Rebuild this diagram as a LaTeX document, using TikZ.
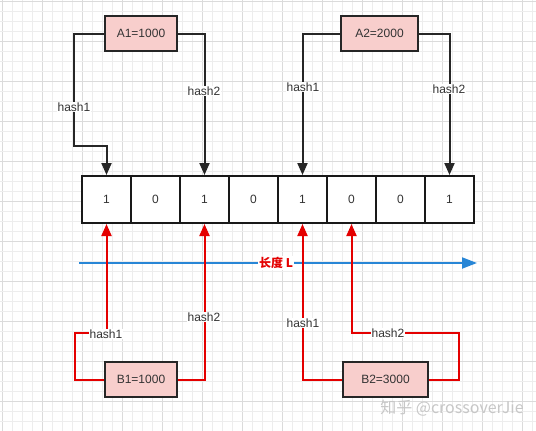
\documentclass[tikz,border=0pt]{standalone}
\usepackage{fontspec}
\setmainfont{Liberation Sans}
\newfontfamily\cjk{Noto Sans CJK SC}
\usetikzlibrary{arrows.meta,calc}
\definecolor{pinkfill}{RGB}{248,206,204}
\definecolor{redc}{RGB}{228,0,0}
\definecolor{bluec}{RGB}{40,134,214}
\definecolor{txt}{RGB}{51,51,51}
\begin{document}
\begin{tikzpicture}[x=1pt,y=-1pt,
  every node/.style={font=\fontsize{12}{14}\selectfont,text=txt},
  gminor/.style={draw=black!7,line width=0.6pt},
  gmajor/.style={draw=black!14,line width=0.6pt},
  keybox/.style={draw=black!85,fill=pinkfill,line width=2pt,minimum height=35pt,inner sep=0pt},
  cell/.style={draw=black!90,fill=white,line width=2pt,minimum width=49pt,minimum height=47pt,inner sep=0pt},
  blk/.style={draw=black!85,line width=2pt,-{Triangle[length=12pt,width=10pt]}},
  redl/.style={draw=redc,line width=2pt,-{Triangle[length=12pt,width=10pt]}},
  lbl/.style={fill=white,inner sep=1pt}
]
\useasboundingbox (0,0) rectangle (536,431);
\fill[white] (0,0) rectangle (536,431);
% grid
\foreach \i in {0,...,53} {
  \pgfmathtruncatemacro{\m}{mod(\i,4)}
  \ifnum\m=0 \draw[gmajor] ({2.5+10*\i},0) -- ++(0,431);
  \else \draw[gminor] ({2.5+10*\i},0) -- ++(0,431); \fi
}
\foreach \j in {0,...,43} {
  \pgfmathtruncatemacro{\m}{mod(\j,4)}
  \ifnum\m=0 \draw[gmajor] (0,{1.5+10*\j}) -- ++(536,0);
  \else \draw[gminor] (0,{1.5+10*\j}) -- ++(536,0); \fi
}
% key boxes
\node[keybox,minimum width=72pt] (A1) at (141,33.5) {A1=1000};
\node[keybox,minimum width=77pt] (A2) at (379.5,33.5) {A2=2000};
\node[keybox,minimum width=72pt] (B1) at (141,379.5) {B1=1000};
\node[keybox,minimum width=85pt] (B2) at (385.5,379.5) {B2=3000};
% array
\foreach \v [count=\i] in {1,0,1,0,1,0,0,1}
  \node[cell] (c\i) at ({82+49*(\i-0.5)},199.5) {\v};
% length line
\coordinate (ls) at (79,263);
\coordinate (le) at (477,263);
\draw[bluec,line width=2pt,-{Triangle[length=15pt,width=11pt]}] (ls) -- (le);
\node[fill=white,inner sep=1pt,text=redc,font=\cjk\bfseries\fontsize{12}{14}\selectfont] (len) at (276,263) {长度 L};
% A connectors
\coordinate (a1k) at (74,146);
\draw[blk] (A1.west) -| (a1k) -| (c1.north);
\draw[blk] (A1.east) -| (c3.north);
\draw[blk] (A2.west) -| (c5.north);
\draw[blk] (A2.east) -| (c8.north);
% B connectors
\coordinate (b1k) at (75,333);
\coordinate (b2k) at (459,333);
\draw[redl] (B1.west) -| (b1k) -| (c1.south);
\draw[redl] (B1.east) -| (c3.south);
\draw[redl] (B2.west) -| (c5.south);
\draw[redl] (B2.east) -| (b2k) -| (c6.south);
% labels
\node[lbl] (la1) at (74,107) {hash1};
\node[lbl] (la2) at (204,91) {hash2};
\node[lbl] (la3) at (303,87) {hash1};
\node[lbl] (la4) at (449,89) {hash2};
\node[lbl] (lb1) at (106,334) {hash1};
\node[lbl] (lb2) at (204,317) {hash2};
\node[lbl] (lb3) at (303,323) {hash1};
\node[lbl] (lb4) at (388,333) {hash2};
% watermark
\node[text=black!22,font=\cjk\fontsize{16}{18}\selectfont] (wm) at (452,408) {知乎 @crossoverJie};
\end{tikzpicture}
\end{document}
